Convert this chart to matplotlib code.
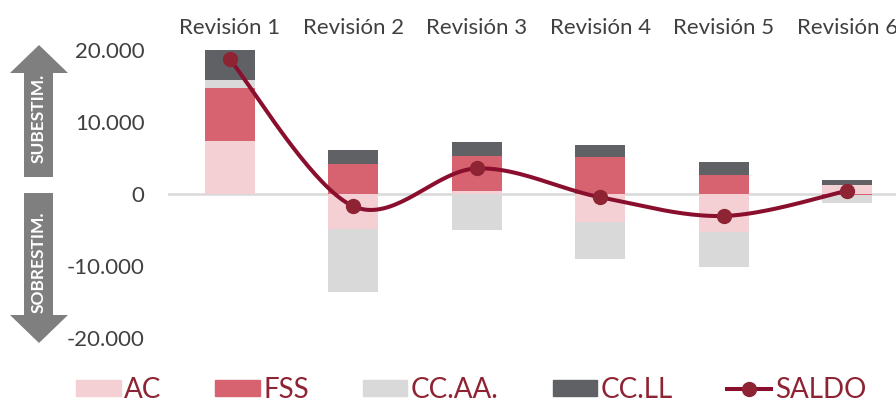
import numpy as np
import matplotlib
matplotlib.use('Agg')
import matplotlib.pyplot as plt
from matplotlib.patches import Polygon, Patch
from matplotlib.lines import Line2D

plt.rcParams['font.family'] = ['Lato', 'DejaVu Sans']

# datos
categorias = ['Revisión 1', 'Revisión 2', 'Revisión 3', 'Revisión 4', 'Revisión 5', 'Revisión 6']
AC = [7300, -4900, 450, -3850, -5300, 1300]
FSS = [7450, 4200, 4850, 5100, 2700, -200]
CCAA = [1050, -8700, -5000, -5200, -4900, -1000]
CCLL = [4200, 1900, 1900, 1700, 1700, 700]
SALDO = [18700, -1700, 3550, -450, -3050, 450]

series = [('AC', AC, '#F4D0D5'), ('FSS', FSS, '#D6636F'),
          ('CC.AA.', CCAA, '#D9D9D9'), ('CC.LL', CCLL, '#606164')]
c_linea = '#8A0F2E'
c_marca = '#8E2433'
c_texto = '#404040'

W, H = 896, 404
fig = plt.figure(figsize=(W / 100, H / 100), dpi=100)
ax = fig.add_axes([168 / W, 66 / H, (909 - 168) / W, 288 / H])

x = np.arange(len(categorias))
pos = np.zeros(len(x))
neg = np.zeros(len(x))
for nombre, vals, col in series:
    v = np.array(vals, dtype=float)
    base = np.where(v >= 0, pos, neg)
    ax.bar(x, v, 0.405, bottom=base, color=col, zorder=2, clip_on=False)
    pos = pos + np.where(v >= 0, v, 0)
    neg = neg + np.where(v < 0, v, 0)

ax.axhline(0, color='#D9D9D9', lw=1.8, zorder=1)

# línea suavizada (tipo Catmull-Rom, como el "suavizado" de Excel)
px_, py_ = x.astype(float), np.array(SALDO, dtype=float)
ys = py_ / 1000.0
xs_c, ys_c = [], []
n = len(px_)
for i in range(n - 1):
    p0 = (px_[max(i - 1, 0)], ys[max(i - 1, 0)])
    p1 = (px_[i], ys[i])
    p2 = (px_[i + 1], ys[i + 1])
    p3 = (px_[min(i + 2, n - 1)], ys[min(i + 2, n - 1)])
    c1 = (p1[0] + (p2[0] - p0[0]) / 6, p1[1] + (p2[1] - p0[1]) / 6)
    c2 = (p2[0] - (p3[0] - p1[0]) / 6, p2[1] - (p3[1] - p1[1]) / 6)
    t = np.linspace(0, 1, 40)
    bx = (1 - t)**3 * p1[0] + 3 * (1 - t)**2 * t * c1[0] + 3 * (1 - t) * t**2 * c2[0] + t**3 * p2[0]
    by = (1 - t)**3 * p1[1] + 3 * (1 - t)**2 * t * c1[1] + 3 * (1 - t) * t**2 * c2[1] + t**3 * p2[1]
    xs_c.extend(bx)
    ys_c.extend(by * 1000)
ax.plot(xs_c, ys_c, color=c_linea, lw=2.9, zorder=3, solid_capstyle='round')
ax.plot(px_, py_, 'o', color=c_marca, ms=10, zorder=4)

ax.set_xlim(-0.5, 5.5)
ax.set_ylim(-20000, 20000)
ax.set_yticks([-20000, -10000, 0, 10000, 20000])
ax.set_yticklabels(['-20.000', '-10.000', '0', '10.000', '20.000'])
ax.set_xticks(x)
ax.set_xticklabels(categorias)
ax.xaxis.tick_top()
ax.tick_params(axis='x', length=0, pad=9, labelsize=16, labelcolor=c_texto)
ax.tick_params(axis='y', length=0, pad=17, labelsize=16, labelcolor=c_texto)
for s in ax.spines.values():
    s.set_visible(False)

# flechas laterales
def fp(xp, yp):
    return (xp / W, 1 - yp / H)

flecha_up = [(24, 177), (53, 177), (53, 73), (68, 73), (39, 45), (10, 73), (24, 73)]
flecha_dn = [(24, 193), (53, 193), (53, 315), (68, 315), (39, 343), (10, 315), (24, 315)]
for pts in (flecha_up, flecha_dn):
    fig.add_artist(Polygon([fp(a, b) for a, b in pts], closed=True,
                           transform=fig.transFigure, color='#7F7F7F', lw=0))
fig.text(*fp(39, 118), 'SUBESTIM.', rotation=90, color='white', fontsize=12.5,
         fontweight='bold', ha='center', va='center')
fig.text(*fp(39, 262), 'SOBRESTIM.', rotation=90, color='white', fontsize=12.5,
         fontweight='bold', ha='center', va='center')

handles = [Patch(color=c) for _, _, c in series]
handles.append(Line2D([], [], color=c_linea, lw=2.9, marker='o', ms=10, mfc=c_marca, mec=c_marca))
labels = [s[0] for s in series] + ['SALDO']
leg = fig.legend(handles, labels, loc='center', bbox_to_anchor=(471 / W, 1 - 390 / H),
                 ncol=5, frameon=False, fontsize=20, handlelength=1.6, handleheight=0.5,
                 handletextpad=0.12, columnspacing=1.95, borderaxespad=0, borderpad=0.2)
for t in leg.get_texts():
    t.set_color(c_marca)

fig.savefig('out.png', dpi=100)
